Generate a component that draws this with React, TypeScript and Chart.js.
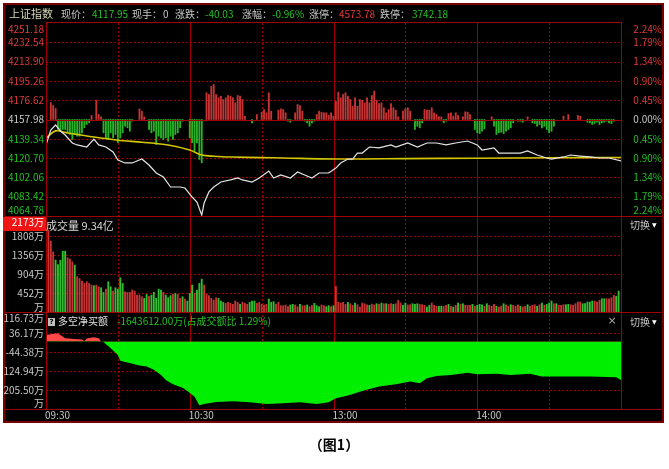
import React, { useEffect, useRef } from 'react';
import { Chart, registerables } from 'chart.js';

Chart.register(...registerables);

// ---------------- DATA ----------------
const PREV_CLOSE = 4157.98;
const PRICE_TICKS = [4251.18, 4232.54, 4213.9, 4195.26, 4176.62, 4157.98, 4139.34, 4120.7, 4102.06, 4083.42, 4064.78];
const PCT_TICKS = ['2.24%', '1.79%', '1.34%', '0.90%', '0.45%', '0.00%', '0.45%', '0.90%', '1.34%', '1.79%', '2.24%'];
const TIME_LABELS = ['09:30', '10:30', '13:00', '14:00'];
const TIME_LABEL_MIN = [0, 60, 120, 180];
const SOLID_MIN = [60, 120, 180];
const DOTTED_MIN = [30, 90, 150, 210];

const VOL_TICKS = [1808, 1356, 904, 452];
const VOL_MAX_LABEL = 2173;
const VOL_AXIS_MAX = 2290;
const NET_TICKS = [116.73, 36.17, -44.38, -124.94, -205.5];
const NET_TICK_LABELS = ['116.73万', '36.17万', '-44.38万', '124.94万', '205.50万'];
const NET_AXIS_MIN = -286.1;
const NET_AXIS_MAX = 125.2;

const HEADER_NAMES = ['现价：', '现手：', '涨跌：', '涨幅：', '涨停：', '跌停：'];
const HEADER_VALUES = ['4117.95', '0', '-40.03', '-0.96%', '4573.78', '3742.18'];
const HEADER_VALUE_KIND = ['down', 'flat', 'down', 'down', 'up', 'down'];

// price (white line), sampled minutes
const PRICE_MIN = [0, 2, 4, 6, 8, 11, 13, 17, 20, 22, 25, 28, 30, 33, 36, 40, 43, 46, 49, 52, 56, 58, 61, 63, 65, 66, 68, 70, 73, 77, 80, 82, 86, 89, 93, 95, 98, 102, 105, 108, 111, 114, 118, 121, 123, 126, 128, 130, 132, 135, 139, 144, 146, 151, 155, 159, 163, 167, 171, 176, 180, 182, 187, 189, 194, 198, 201, 205, 209, 211, 216, 219, 223, 227, 231, 235, 240];
const PRICE = [4133.4, 4147.8, 4152.7, 4146.9, 4143.0, 4135.3, 4133.4, 4131.4, 4139.1, 4133.4, 4131.4, 4126.6, 4118.9, 4116.0, 4116.0, 4119.8, 4114.0, 4106.3, 4102.4, 4092.8, 4092.8, 4091.8, 4083.1, 4078.3, 4065.7, 4077.3, 4088.0, 4092.8, 4097.6, 4099.6, 4101.5, 4099.6, 4097.6, 4101.5, 4108.2, 4101.5, 4104.4, 4101.5, 4107.3, 4104.4, 4101.5, 4106.3, 4106.3, 4111.1, 4116.0, 4119.8, 4119.8, 4125.6, 4125.6, 4131.4, 4130.5, 4133.4, 4131.4, 4135.3, 4131.4, 4135.3, 4135.3, 4133.4, 4135.3, 4137.2, 4133.4, 4128.5, 4130.5, 4125.6, 4125.6, 4125.6, 4127.6, 4123.7, 4120.8, 4119.8, 4121.8, 4123.7, 4122.7, 4121.8, 4120.8, 4120.8, 4117.95];

// average price (yellow line)
const AVG_MIN = [0, 4, 9, 20, 30, 40, 51, 60, 65, 70, 78, 90, 99, 123, 150, 180, 210, 240];
const AVG = [4140, 4147, 4145, 4141, 4138, 4136, 4133.3, 4128.5, 4123.7, 4122.5, 4121.7, 4121.2, 4120.8, 4119.8, 4120.2, 4120.6, 4121.0, 4121.3];

// buy/sell power bars around the previous close, one per minute (m0..m240)
const POWER = [
  0, 0, 17, 14, 11, -10, -11.7, -10, -10, -13.3,
  -15, -20, -15, -16.7, -16.7, -13.3, -8.3, -5, -3.3, 4,
  0, 19.3, 5, 2.7, -13.3, -18.3, -20, -13.3, -18.3, -15,
  -23.3, -18.3, -13.3, -6.7, -8.3, -11.7, -1.7, 0, 0, 10.7,
  8.3, 2.7, 0, -10, -13.3, -11.7, -25, -16.7, -18.3, -20,
  -18.3, -21.7, -16.7, -20, -15, -13.3, -8.3, -1.7, 0, 0,
  -18.3, -23.3, -31.7, -23.3, -40, -43.3, 0, 26.7, 25, 33.3,
  35, 25, 21.7, 23.3, 20, 21.7, 24, 23.3, 21.7, 16.7,
  24, 23.3, 20, 3.3, 0, 0, -3.3, 0, 5, 0,
  7.3, 10, 6.7, 26.7, 8.3, 0, 0, 9.3, 10.7, 10,
  6.7, -1.7, -2.7, 0, 6.7, 15, 14, 8.3, -1.7, -3.3,
  -6.7, -3.3, -1.7, 5, 8.3, 7.3, 6.7, 6.7, 4, 6.7,
  3.3, 18.3, 27.3, 21.7, 25, 26.7, 23.3, 20, 13.3, 21.7,
  13.3, 20, 19.3, 16.7, 21.7, 16.7, 24, 28.3, 19.3, 16,
  16.7, 11.7, 6.7, 10, 16, 11.7, 9.3, 2.7, 0, 8.3,
  10.7, 11.7, 8.3, 0, -10, -6.7, -8.3, -3.3, 10, 9.3,
  9.3, 11.7, 6.7, 5, 2.7, 2.7, -3.3, -1.7, 6, 6.7,
  3.3, 6.7, 4, 0, 2.7, 7.7, 7.3, 5, 0, -10,
  -13.3, -14, -11.7, -9.3, 0, 0, 2.7, -6.7, -15, -13.3,
  -12.7, -14, -11.7, -10, -8.3, -3.3, 0, -1.7, -1.7, -2.7,
  0, 2.7, 0, -3.3, -4, -6.7, -5, -8.3, -6.7, -10,
  -13.3, -11.7, -6.7, 0, 0, 0, 3.3, 0, 5, 0,
  0, 0, 4, 3.3, 0, 0, -2.7, -3.3, -5, -4,
  -2.7, -5, -3.3, -2.7, -1.7, -3.3, -4, -1.7, 0, 0,
  0,
];

// volume (万), morning m0..m120 and afternoon m121..m239
const VOL_AM = [
  920, 1950, 1690, 1435, 1237, 1134, 1237, 1451, 1451, 1293,
  1261, 1197, 1118, 840, 800, 737, 682, 722, 682, 642,
  626, 642, 603, 579, 468, 547, 722, 603, 500, 579,
  547, 817, 682, 484, 468, 468, 523, 500, 404, 404,
  365, 325, 420, 373, 404, 468, 325, 547, 523, 468,
  404, 341, 389, 420, 444, 420, 325, 365, 309, 262,
  444, 642, 444, 523, 682, 785, 642, 420, 389, 325,
  285, 341, 325, 262, 230, 206, 230, 206, 182, 262,
  230, 182, 230, 206, 182, 230, 262, 262, 206, 230,
  182, 167, 182, 309, 230, 246, 182, 230, 151, 151,
  167, 127, 167, 182, 167, 127, 182, 151, 151, 167,
  127, 151, 206, 151, 127, 167, 151, 127, 151, 127,
  151,
];
const DIR_AM = 'grrrgggggr' + 'rrgrrrrrrr' + 'grrggrggrg' + 'gggrrrrrrr' + 'rggrgggggr' + 'gggrgrrgrg' + 'ggrgggrrrr' + 'rrgggrrrrr' + 'rgrrrgggrr' + 'rrrgggrrrr' + 'rrggrrgrrg' + 'rrgggrrggr' + 'g';
const VOL_PM = [
  610, 238, 214, 230, 182, 230, 198, 159, 214, 174,
  119, 214, 198, 174, 159, 190, 167, 198, 182, 214,
  198, 198, 182, 198, 182, 198, 278, 214, 159, 214,
  167, 174, 198, 182, 198, 182, 174, 159, 119, 159,
  214, 159, 135, 135, 135, 135, 159, 182, 135, 119,
  159, 214, 182, 198, 159, 159, 159, 182, 135, 159,
  182, 174, 135, 198, 159, 135, 182, 135, 119, 143,
  198, 174, 135, 174, 159, 135, 174, 135, 119, 135,
  174, 135, 159, 174, 135, 174, 214, 159, 182, 214,
  262, 198, 198, 159, 159, 174, 174, 182, 174,
  159, 198, 238, 238, 198, 198, 238, 238, 262, 262,
  238, 278, 317, 317, 317, 317, 341, 397, 373, 500,
];
const DIR_PM = 'rrrrrgrrgr' + 'rrrrgrrgrg' + 'rgrrgrrrgg' + 'rrgggrrrgg' + 'rrrggrrgrg' + 'rgrgrrrgrg' + 'ggrgrrrgrr' + 'grrgrrrgrr' + 'grrrgrgrgg' + 'grgrrrggr' + 'rrrrgggggrrrggrrrrgg';

// net buy amount (多空净买额), sampled minutes
const NET_MIN = [0, 2, 5, 7, 8, 12, 15, 16, 17, 18, 20, 22, 23, 24, 27, 30, 31, 34, 37, 39, 42, 45, 48, 50, 53, 57, 59, 62, 64, 66, 71, 78, 85, 92, 99, 106, 113, 118, 121, 126, 132, 139, 146, 152, 156, 159, 163, 169, 176, 180, 188, 194, 202, 207, 216, 227, 238, 240];
const NET = [27.6, 30.5, 34.8, 20, 13.6, 10.6, 8.5, 2, 12.7, 15, 17.8, 13.6, 0, -2, -28, -57, -82, -89, -96, -102, -106, -120, -142, -163, -181, -196, -210, -234, -270, -265, -256, -253, -258, -265, -262, -258, -265, -258, -240, -229, -210, -191, -181, -170, -177, -156, -146, -142, -132, -139, -137, -142, -137, -148, -148, -148, -152, -163];

// ---------------- LAYOUT / STYLE ----------------
const W = 669, H = 469;
const PLOT_L = 46, PLOT_R = 621;
const P_TOP = 23, P_BOT = 216, V_BOT = 312, N_BOT = 409, T_BOT = 423;
const FR_L = 3, FR_T = 3, FR_R = 664;

const LINE_RED = '#a00000';
const OUTER = '#7a0000';
const LBL_RED = '#e03a3a';
const LBL_GREEN = '#22c022';
const LBL_GRAY = '#c8c8c8';
const BAR_RED = '#c83434';
const BAR_GREEN = '#26b426';
const FONT = '10px "Noto Sans CJK SC", sans-serif';

function panelRange(top: number, bottom: number, vmin: number, vmax: number) {
  const ppu = (bottom - top) / (vmax - vmin);
  return { min: vmin - (N_BOT - bottom) / ppu, max: vmax + (top - P_TOP) / ppu };
}

const crisp = (v: number) => Math.round(v) + 0.5;

const tdxPlugin = {
  id: 'tdx',
  beforeDraw(chart: any) {
    const c = chart.ctx;
    c.save();
    c.fillStyle = '#ffffff';
    c.fillRect(0, 0, W, H);
    c.fillStyle = '#000000';
    c.fillRect(FR_L, FR_T, FR_R - FR_L, T_BOT - FR_T);
    c.restore();
  },
  beforeDatasetsDraw(chart: any) {
    const c = chart.ctx;
    const s = chart.scales;
    c.save();
    c.lineWidth = 1;
    c.strokeStyle = LINE_RED;
    const h = (y: number, x0: number, x1: number) => { c.beginPath(); c.moveTo(x0, crisp(y)); c.lineTo(x1, crisp(y)); c.stroke(); };
    const v = (x: number, y0: number, y1: number) => { c.beginPath(); c.moveTo(crisp(x), y0); c.lineTo(crisp(x), y1); c.stroke(); };
    c.setLineDash([2, 2]);
    PRICE_TICKS.forEach((t, i) => {
      if (i === 0 || i === PRICE_TICKS.length - 1 || t === PREV_CLOSE) return;
      h(s.yP.getPixelForValue(t), PLOT_L, PLOT_R);
    });
    VOL_TICKS.forEach((t) => h(s.yV.getPixelForValue(t), PLOT_L, PLOT_R));
    NET_TICKS.slice(1).forEach((t) => h(s.yN.getPixelForValue(t), PLOT_L, PLOT_R));
    DOTTED_MIN.forEach((m) => v(s.x.getPixelForValue(m), P_TOP, N_BOT));
    c.setLineDash([]);
    SOLID_MIN.forEach((m) => v(s.x.getPixelForValue(m), P_TOP, N_BOT));
    c.restore();
  },
  afterDatasetsDraw(chart: any) {
    const c = chart.ctx;
    const s = chart.scales;
    c.save();
    c.lineWidth = 1;
    c.strokeStyle = LINE_RED;
    const h = (y: number, x0: number, x1: number) => { c.beginPath(); c.moveTo(x0, crisp(y)); c.lineTo(x1, crisp(y)); c.stroke(); };
    const v = (x: number, y0: number, y1: number) => { c.beginPath(); c.moveTo(crisp(x), y0); c.lineTo(crisp(x), y1); c.stroke(); };
    h(s.yP.getPixelForValue(PREV_CLOSE), PLOT_L, PLOT_R);
    h(P_TOP - 1, PLOT_L, PLOT_R);
    h(P_BOT, FR_L, FR_R);
    h(V_BOT, FR_L, FR_R);
    h(N_BOT, FR_L, FR_R);
    v(PLOT_L, P_TOP - 1, N_BOT);
    v(PLOT_R, P_TOP - 1, N_BOT);
    c.strokeStyle = OUTER;
    c.lineWidth = 2;
    c.strokeRect(FR_L + 1, FR_T + 1, FR_R - FR_L - 2, T_BOT - FR_T - 2);
    c.restore();
  },
  afterDraw(chart: any) {
    const c = chart.ctx;
    const s = chart.scales;
    c.save();
    c.textBaseline = 'middle';
    const text = (t: string, x: number, y: number, color: string, align: CanvasTextAlign = 'left', font = FONT) => {
      c.font = font; c.fillStyle = color; c.textAlign = align; c.fillText(t, x, y);
    };
    const clampY = (y: number, top: number, bot: number) => Math.max(top + 6, Math.min(bot - 6, y));

    // header
    text('上证指数', 9, 14, '#d6d6b4', 'left', '11px "Noto Sans CJK SC", sans-serif');
    const nameX = [61, 132, 175, 242, 309, 380];
    const valX = [92, 163, 205, 272, 339, 412];
    HEADER_NAMES.forEach((n, i) => {
      text(n, nameX[i], 14, LBL_GRAY);
      const k = HEADER_VALUE_KIND[i];
      text(HEADER_VALUES[i], valX[i], 14, k === 'up' ? LBL_RED : k === 'down' ? LBL_GREEN : LBL_GRAY);
    });

    // price axis labels
    PRICE_TICKS.forEach((t, i) => {
      const y = clampY(s.yP.getPixelForValue(t), P_TOP, P_BOT);
      const col = t > PREV_CLOSE ? LBL_RED : t < PREV_CLOSE ? LBL_GREEN : LBL_GRAY;
      text(t.toFixed(2), 44, y, col, 'right');
      text(PCT_TICKS[i], 662, y, col, 'right');
    });

    // volume panel
    const vy = clampY(s.yV.getPixelForValue(VOL_MAX_LABEL), P_BOT, V_BOT);
    c.fillStyle = '#f01414';
    c.fillRect(FR_L, P_BOT + 1, PLOT_L - FR_L, 14);
    text(VOL_MAX_LABEL + '万', 44, vy, '#ffffff', 'right');
    VOL_TICKS.forEach((t) => text(t + '万', 44, s.yV.getPixelForValue(t), LBL_GRAY, 'right'));
    text('万', 44, clampY(s.yV.getPixelForValue(0), P_BOT, V_BOT) + 1, LBL_GRAY, 'right');
    text('成交量 9.34亿', 46, 225.5, '#d8d8d8', 'left', '11px "Noto Sans CJK SC", sans-serif');
    text('切换', 630, 225, LBL_GRAY);
    text('▼', 652, 225, '#ffffff', 'left', '6px "DejaVu Sans", sans-serif');

    // net buy panel
    NET_TICKS.forEach((t, i) => text(NET_TICK_LABELS[i], 44, clampY(s.yN.getPixelForValue(t), V_BOT, N_BOT), LBL_GRAY, 'right'));
    text('万', 44, N_BOT - 6, LBL_GRAY, 'right');
    c.fillStyle = '#c0c0c0';
    c.fillRect(48, 318, 7, 8);
    text('?', 51.5, 322, '#000000', 'center', 'bold 7px "DejaVu Sans", sans-serif');
    text('多空净买额', 58, 321.5, '#e0e0e0');
    text('-1643612.00万(占成交额比 1.29%)', 117, 321.5, LBL_GREEN);
    text('×', 612, 321, '#a8a8a8', 'center', '11px "DejaVu Sans", sans-serif');
    text('切换', 630, 322, LBL_GRAY);
    text('▼', 652, 322, '#ffffff', 'left', '6px "DejaVu Sans", sans-serif');

    // time axis
    TIME_LABELS.forEach((t, i) => text(t, s.x.getPixelForValue(TIME_LABEL_MIN[i]) - 1, 415, LBL_GRAY));

    // caption
    text('（图1）', 334, 445, '#000000', 'center', 'bold 14px "Noto Sans CJK SC", sans-serif');
    c.restore();
  },
};

export default function App() {
  const ref = useRef<HTMLCanvasElement>(null);
  useEffect(() => {
    const pR = panelRange(P_TOP, P_BOT, PRICE_TICKS[PRICE_TICKS.length - 1], PRICE_TICKS[0]);
    const half = (P_BOT - P_TOP) / 2;
    const wR = panelRange(P_TOP, P_BOT, -half, half);
    const vR = panelRange(P_BOT, V_BOT, 0, VOL_AXIS_MAX);
    const nR = panelRange(V_BOT, N_BOT, NET_AXIS_MIN, NET_AXIS_MAX);

    const volAll = VOL_AM.concat(VOL_PM);
    const dirAll = DIR_AM + DIR_PM;

    const chart = new Chart(ref.current as HTMLCanvasElement, {
      type: 'line',
      data: {
        datasets: [
          {
            type: 'line',
            data: PRICE_MIN.map((m, i) => ({ x: m, y: PRICE[i] })),
            yAxisID: 'yP',
            borderColor: '#e4e4e4',
            borderWidth: 1.2,
            pointRadius: 0,
            tension: 0,
          },
          {
            type: 'line',
            data: AVG_MIN.map((m, i) => ({ x: m, y: AVG[i] })),
            yAxisID: 'yP',
            borderColor: '#d2c800',
            borderWidth: 1.6,
            pointRadius: 0,
            tension: 0.3,
          },
          {
            type: 'bar',
            data: POWER.map((v, i) => ({ x: i, y: v })).filter((d) => d.y !== 0),
            yAxisID: 'yW',
            grouped: false,
            barThickness: 1.2,
            borderWidth: 0,
            backgroundColor: (ctx: any) => (ctx.raw && ctx.raw.y > 0 ? BAR_RED : BAR_GREEN),
          },
          {
            type: 'bar',
            data: volAll.map((v, i) => ({ x: i, y: v })),
            yAxisID: 'yV',
            grouped: false,
            barThickness: 1.2,
            borderWidth: 0,
            backgroundColor: volAll.map((_, i) => (dirAll[i] === 'r' ? BAR_RED : '#30c030')),
          },
          {
            type: 'line',
            data: NET_MIN.map((m, i) => ({ x: m, y: NET[i] })),
            yAxisID: 'yN',
            borderWidth: 0,
            borderColor: 'rgba(0,0,0,0)',
            pointRadius: 0,
            tension: 0,
            fill: { target: 'origin', above: '#ff4848', below: '#00ee00' },
          },
        ] as any,
      },
      options: {
        responsive: false,
        devicePixelRatio: 1,
        animation: false,
        events: [],
        layout: { padding: { left: PLOT_L, right: W - PLOT_R, top: P_TOP, bottom: H - N_BOT } },
        plugins: { legend: { display: false }, tooltip: { enabled: false } },
        scales: {
          x: { type: 'linear', min: 0, max: 240, offset: false, display: false },
          yP: { type: 'linear', min: pR.min, max: pR.max, display: false },
          yW: { type: 'linear', min: wR.min, max: wR.max, display: false },
          yV: { type: 'linear', min: vR.min, max: vR.max, display: false },
          yN: { type: 'linear', min: nR.min, max: nR.max, display: false },
        },
      } as any,
      plugins: [tdxPlugin as any],
    });
    return () => chart.destroy();
  }, []);

  return (
    <div style={{ position: 'absolute', left: 0, top: 0, width: W, height: H, background: '#fff' }}>
      <canvas ref={ref} width={W} height={H} style={{ display: 'block', width: W, height: H }} />
    </div>
  );
}
